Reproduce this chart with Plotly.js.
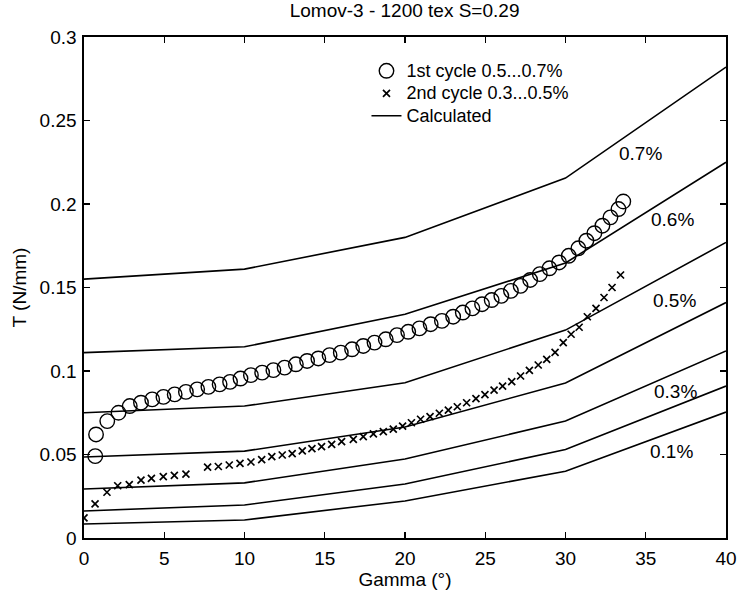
<!DOCTYPE html>
<html>
<head>
<meta charset="utf-8">
<script src="https://cdn.plot.ly/plotly-3.0.1.min.js"></script>
<style>
  html, body { margin: 0; padding: 0; background: #fff; }
  #chart { width: 741px; height: 598px; }
</style>
</head>
<body>
<div id="chart"></div>
<script>
// Calculated tension curves, evaluated at the gamma nodes
const gammaNodes = [0, 10, 20, 30, 40];
const calc07 = [0.155, 0.161, 0.180, 0.2155, 0.282];
const calc06 = [0.111, 0.1145, 0.134, 0.1647, 0.225];
const calc05 = [0.075, 0.079, 0.093, 0.1245, 0.177];
const calc04 = [0.0485, 0.052, 0.0665, 0.0928, 0.141];
const calc03 = [0.0293, 0.033, 0.0473, 0.0700, 0.112];
const calc02 = [0.0162, 0.0198, 0.0323, 0.0530, 0.091];
const calc01 = [0.0084, 0.0108, 0.0222, 0.0400, 0.0754];

// Measured: 1st cycle (strain 0.5...0.7%)
const cycle1Gamma = [0.7, 0.75, 1.45, 2.15, 2.85, 3.55, 4.25, 4.95, 5.65, 6.35,
  7.05, 7.75, 8.45, 9.1, 9.75, 10.4, 11.1, 11.8, 12.5, 13.2,
  13.9, 14.6, 15.3, 16.0, 16.7, 17.4, 18.1, 18.8, 19.5, 20.2,
  20.9, 21.6, 22.3, 23.0, 23.6, 24.2, 24.8, 25.4, 26.0, 26.6,
  27.2, 27.8, 28.4, 29.0, 29.6, 30.2, 30.8, 31.3, 31.8, 32.3,
  32.8, 33.3, 33.6];
const cycle1T = [0.049, 0.062, 0.070, 0.075, 0.079, 0.081, 0.083, 0.0845, 0.086, 0.0875,
  0.089, 0.0905, 0.092, 0.0935, 0.0955, 0.0975, 0.099, 0.1005, 0.102, 0.104,
  0.106, 0.1075, 0.1095, 0.111, 0.113, 0.115, 0.117, 0.119, 0.1215, 0.1235,
  0.1255, 0.128, 0.130, 0.1325, 0.135, 0.1375, 0.140, 0.1425, 0.145, 0.148,
  0.151, 0.1545, 0.158, 0.1615, 0.165, 0.169, 0.1735, 0.178, 0.1825, 0.187,
  0.192, 0.197, 0.2015];

// Measured: 2nd cycle (strain 0.3...0.5%)
const cycle2Gamma = [0.0, 0.69, 1.43, 2.1, 2.82, 3.55, 4.2, 4.94, 5.63, 6.35,
  7.7, 8.37, 9.05, 9.72, 10.4, 11.07, 11.7, 12.35, 12.97, 13.6,
  14.2, 14.8, 15.43, 16.05, 16.78, 17.4, 18.03, 18.65, 19.27, 19.85,
  20.4, 20.97, 21.56, 22.14, 22.7, 23.26, 23.84, 24.42, 24.98, 25.55,
  26.08, 26.65, 27.2, 27.75, 28.3, 28.83, 29.35, 29.86, 30.35, 30.85,
  31.36, 31.9, 32.4, 32.9, 33.43];
const cycle2T = [0.012, 0.0204, 0.0274, 0.0313, 0.0320, 0.0347, 0.0357, 0.0367, 0.0375, 0.0382,
  0.0425, 0.0428, 0.0437, 0.0447, 0.0455, 0.0469, 0.0487, 0.0497, 0.0505, 0.0522,
  0.0535, 0.0547, 0.0561, 0.0577, 0.0591, 0.0607, 0.0623, 0.0637, 0.0652, 0.0670,
  0.0690, 0.0711, 0.0727, 0.0747, 0.0766, 0.0786, 0.0810, 0.0834, 0.0858, 0.0886,
  0.0910, 0.0936, 0.0970, 0.1004, 0.1036, 0.1070, 0.1112, 0.1170, 0.1220, 0.1262,
  0.1325, 0.1375, 0.1440, 0.1500, 0.1575];

const xTicks = [0, 5, 10, 15, 20, 25, 30, 35, 40];
const yTicks = [0, 0.05, 0.1, 0.15, 0.2, 0.25, 0.3];
const yTickText = ['0', '0.05', '0.1', '0.15', '0.2', '0.25', '0.3'];

const seriesNames = ['1st cycle 0.5...0.7%', '2nd cycle 0.3...0.5%', 'Calculated'];

const FONT = "'Liberation Sans', Arial, Helvetica, sans-serif";
const FS = 19;

// legend rows are spaced from the legend font size; the entry text itself is drawn larger
const legendName = s => '<span style="font-size:18px">' + s + '</span>';

const traces = [
  {
    x: cycle1Gamma, y: cycle1T, type: 'scatter', mode: 'markers',
    name: legendName(seriesNames[0]),
    marker: { symbol: 'circle-open', size: 14.5, color: '#000', line: { width: 1.4, color: '#000' } }
  },
  {
    x: cycle2Gamma, y: cycle2T, type: 'scatter', mode: 'markers',
    name: legendName(seriesNames[1]),
    marker: { symbol: 'x-thin-open', size: 7, color: '#000', line: { width: 1.7, color: '#000' } }
  }
];

const calcCurves = [calc07, calc06, calc05, calc04, calc03, calc02, calc01];
calcCurves.forEach((vals, i) => {
  traces.push({
    x: gammaNodes, y: vals, type: 'scatter', mode: 'lines',
    name: legendName(seriesNames[2]), legendgroup: 'calc', showlegend: i === 0,
    line: { color: '#000', width: 1.6 }
  });
});

const strainLabels = [
  { text: '0.7%', x: 34.7, y: 0.230 },
  { text: '0.6%', x: 36.65, y: 0.1905 },
  { text: '0.5%', x: 36.8, y: 0.1425 },
  { text: '0.3%', x: 36.85, y: 0.0877 },
  { text: '0.1%', x: 36.6, y: 0.0518 }
];

const axisCommon = {
  showgrid: false, zeroline: false,
  showline: true, linecolor: '#000', linewidth: 1.6, mirror: 'ticks',
  ticks: 'inside', ticklen: 6, tickwidth: 1.4, tickcolor: '#000',
  tickfont: { family: FONT, size: FS, color: '#000' }
};

const layout = {
  width: 741, height: 598,
  margin: { l: 84, r: 15, t: 37, b: 60 },
  paper_bgcolor: '#fff', plot_bgcolor: '#fff',
  font: { family: FONT, color: '#000' },
  title: {
    text: 'Lomov-3 - 1200 tex S=0.29',
    font: { family: FONT, size: FS, color: '#000' },
    x: 0.546, xanchor: 'center', y: 0.982, yanchor: 'middle', yref: 'container'
  },
  xaxis: Object.assign({}, axisCommon, {
    range: [0, 40], tickvals: xTicks, ticklabelstandoff: 3,
    title: { text: 'Gamma (°)', font: { family: FONT, size: FS, color: '#000' }, standoff: 4 }
  }),
  yaxis: Object.assign({}, axisCommon, {
    range: [0, 0.3], tickvals: yTicks, ticktext: yTickText, ticklabelstandoff: 2,
    title: { text: 'T (N/mm)', font: { family: FONT, size: FS, color: '#000' }, standoff: 8 }
  }),
  showlegend: true,
  legend: {
    x: 0.44, xanchor: 'left', y: 0.965, yanchor: 'top',
    bgcolor: 'rgba(0,0,0,0)', borderwidth: 0,
    font: { family: FONT, size: 15, color: '#000' },
    tracegroupgap: 0
  },
  annotations: strainLabels.map(l => ({
    x: l.x, y: l.y, xref: 'x', yref: 'y', text: l.text, showarrow: false,
    font: { family: FONT, size: FS, color: '#000' }
  }))
};

Plotly.newPlot('chart', traces, layout, { displayModeBar: false, staticPlot: true });
</script>
</body>
</html>
